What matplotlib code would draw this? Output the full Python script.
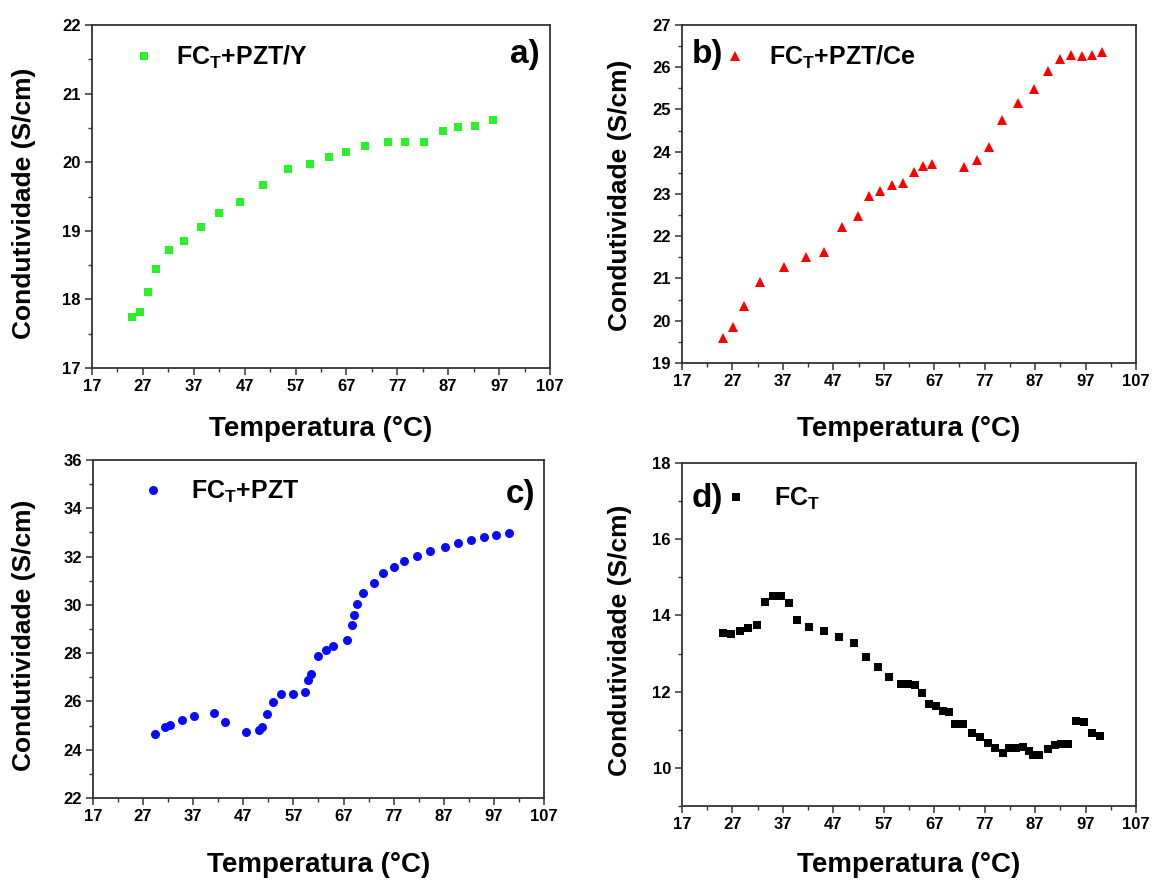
import matplotlib
matplotlib.use("Agg")
import matplotlib.pyplot as plt
from matplotlib.ticker import MultipleLocator
from matplotlib.lines import Line2D

plt.rcParams['mathtext.fontset'] = 'custom'
plt.rcParams['mathtext.bf'] = 'Liberation Sans:bold'
plt.rcParams['mathtext.rm'] = 'Liberation Sans:bold'

fam = ['Liberation Sans', 'DejaVu Sans']

# a) FCT+PZT/Y
a_temp = [24.9, 26.5, 28.0, 29.6, 32.2, 35.1, 38.4, 42.0, 46.1, 50.5, 55.6,
          59.8, 63.5, 67.0, 70.6, 75.1, 78.5, 82.3, 86.0, 89.0, 92.2, 95.8]
a_cond = [17.75, 17.82, 18.11, 18.45, 18.72, 18.85, 19.06, 19.26, 19.42, 19.67, 19.90,
          19.97, 20.07, 20.15, 20.23, 20.30, 20.30, 20.29, 20.46, 20.51, 20.53, 20.62]

# b) FCT+PZT/Ce
b_temp = [25.1, 27.1, 29.2, 32.5, 37.2, 41.5, 45.1, 48.8, 51.8, 54.0, 56.3, 58.7, 60.9, 62.9,
          64.7, 66.6, 72.9, 75.5, 77.9, 80.4, 83.5, 86.7, 89.6, 92.0, 94.1, 96.2, 98.2, 100.3]
b_cond = [19.58, 19.84, 20.36, 20.91, 21.28, 21.50, 21.63, 22.22, 22.47, 22.94, 23.08, 23.21, 23.26, 23.53,
          23.67, 23.71, 23.64, 23.80, 24.11, 24.74, 25.15, 25.48, 25.90, 26.20, 26.29, 26.27, 26.29, 26.37]

# c) FCT+PZT
c_temp = [29.4, 31.4, 32.4, 34.8, 37.1, 41.1, 43.4, 47.5, 50.2, 50.7, 51.8, 53.0, 54.5,
          56.9, 59.3, 59.9, 60.5, 61.9, 63.5, 64.9, 67.6, 68.6, 69.1, 69.6, 70.9, 73.0,
          74.9, 77.0, 79.1, 81.6, 84.3, 87.2, 89.9, 92.4, 95.0, 97.4, 100.0]
c_cond = [24.65, 24.94, 25.04, 25.24, 25.38, 25.50, 25.16, 24.72, 24.82, 24.94, 25.48, 25.99, 26.31,
          26.32, 26.39, 26.88, 27.15, 27.90, 28.11, 28.29, 28.54, 29.16, 29.57, 30.03, 30.51, 30.91,
          31.30, 31.57, 31.81, 32.03, 32.23, 32.41, 32.55, 32.70, 32.80, 32.88, 32.97]

# d) FCT
d_temp = [25.2, 26.8, 28.5, 30.1, 31.8, 33.4, 35.0, 36.6, 38.2, 39.8, 42.2, 45.1, 48.2, 51.1,
          53.4, 55.8, 58.1, 60.4, 61.7, 63.2, 64.6, 66.0, 67.3, 68.7, 70.0, 71.2, 72.7, 74.4,
          76.0, 77.6, 79.1, 80.6, 81.8, 83.2, 84.6, 85.7, 86.6, 87.8, 89.6, 91.0, 92.2, 93.5,
          95.1, 96.7, 98.3, 99.8]
d_cond = [13.55, 13.51, 13.58, 13.66, 13.74, 14.35, 14.52, 14.52, 14.34, 13.89, 13.70, 13.60, 13.44, 13.29,
          12.91, 12.66, 12.38, 12.19, 12.19, 12.17, 11.96, 11.67, 11.63, 11.49, 11.47, 11.14, 11.14, 10.92,
          10.81, 10.66, 10.53, 10.40, 10.52, 10.51, 10.55, 10.44, 10.33, 10.35, 10.49, 10.60, 10.62, 10.62,
          11.23, 11.20, 10.92, 10.84]

x_major = list(range(17, 108, 10))
x_minor = list(range(22, 108, 10))

panels = [
    dict(pos=[0.0797, 0.5823, 0.3965, 0.3893], x=a_temp, y=a_cond, ylim=(17, 22), step=1,
         marker='s', color='#2af22a', ms=6.2, name=r'FC$_{\mathbf{T}}$+PZT/Y', tag='a)',
         tagpos=(0.978, 0.915), tagha='right', leg=(0.097, 0.905), pad=1.0,
         xl=-0.14, yl=(-0.122, 0.48)),
    dict(pos=[0.5905, 0.5880, 0.3931, 0.3837], x=b_temp, y=b_cond, ylim=(19, 27), step=1,
         marker='^', color='#ff0000', ms=7.5, name=r'FC$_{\mathbf{T}}$+PZT/Ce', tag='b)',
         tagpos=(0.022, 0.912), tagha='left', leg=(0.101, 0.905), pad=1.05,
         xl=-0.157, yl=(-0.110, 0.497)),
    dict(pos=[0.0805, 0.0942, 0.3905, 0.3837], x=c_temp, y=c_cond, ylim=(22, 36), step=2,
         marker='o', color='#0a0aff', ms=6.5, name=r'FC$_{\mathbf{T}}$+PZT', tag='c)',
         tagpos=(0.98, 0.897), tagha='right', leg=(0.117, 0.905), pad=1.2,
         xl=-0.16, yl=(-0.126, 0.482)),
    dict(pos=[0.5905, 0.0851, 0.3931, 0.3893], x=d_temp, y=d_cond, ylim=(9, 18), step=2,
         marker='s', color='#000000', ms=5.2, name=r'FC$_{\mathbf{T}}$', tag='d)',
         tagpos=(0.022, 0.897), tagha='left', leg=(0.103, 0.895), pad=1.2,
         xl=-0.134, yl=(-0.110, 0.484)),
]

fig = plt.figure(figsize=(11.55, 8.81), dpi=100)

for p in panels:
    ax = fig.add_axes(p['pos'])
    ax.plot(p['x'], p['y'], linestyle='none', marker=p['marker'], color=p['color'],
            markersize=p['ms'], markeredgewidth=0)
    ax.set_xlim(17, 107)
    ax.set_ylim(*p['ylim'])
    ax.set_xticks(x_major)
    ax.set_xticks(x_minor, minor=True)
    ax.yaxis.set_major_locator(MultipleLocator(p['step']))
    ax.yaxis.set_minor_locator(MultipleLocator(p['step'] / 2))
    ax.tick_params(which='major', direction='out', length=5, width=1.1, color='#333333', pad=3)
    ax.tick_params(which='minor', direction='out', length=3, width=1.0, color='#333333')
    for lab in ax.get_xticklabels() + ax.get_yticklabels():
        lab.set_family(fam)
        lab.set_fontweight('bold')
        lab.set_fontsize(12)
    for s in ax.spines.values():
        s.set_linewidth(1.3)
        s.set_color('#333333')

    ax.set_xlabel('Temperatura (°C)', family=fam, fontweight='bold', fontsize=20)
    ax.xaxis.set_label_coords(0.5, p['xl'])
    ax.set_ylabel('Condutividade (S/cm)', family=fam, fontweight='bold', fontsize=19)
    ax.yaxis.set_label_coords(*p['yl'])

    ax.text(p['tagpos'][0], p['tagpos'][1], p['tag'], transform=ax.transAxes,
            ha=p['tagha'], va='center', family=fam, fontweight='bold', fontsize=24)

    h = Line2D([], [], linestyle='none', marker=p['marker'], color=p['color'],
               markersize=p['ms'], markeredgewidth=0)
    ax.legend([h], [p['name']], loc='center left', bbox_to_anchor=p['leg'],
              frameon=False, handlelength=0.6, handletextpad=p['pad'], borderaxespad=0,
              borderpad=0, prop=dict(family=fam, weight='bold', size=18))

fig.savefig('out.png', dpi=100)
